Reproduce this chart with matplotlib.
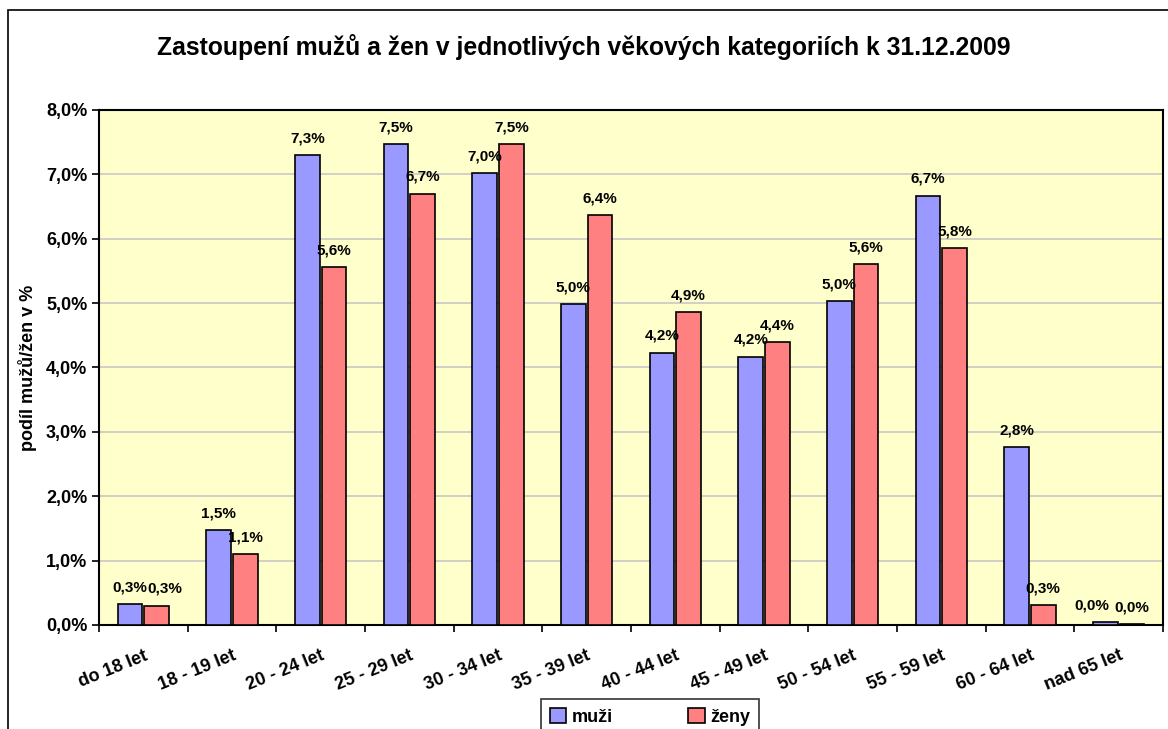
import numpy as np
import matplotlib.pyplot as plt
import matplotlib.transforms as mtransforms
from matplotlib.patches import Rectangle

plt.rcParams['font.family'] = ['Liberation Sans', 'DejaVu Sans']

categories = ["do 18 let", "18 - 19 let", "20 - 24 let", "25 - 29 let", "30 - 34 let",
              "35 - 39 let", "40 - 44 let", "45 - 49 let", "50 - 54 let", "55 - 59 let",
              "60 - 64 let", "nad 65 let"]
muzi = [0.33, 1.47, 7.30, 7.47, 7.02, 4.98, 4.23, 4.17, 5.03, 6.67, 2.76, 0.04]
zeny = [0.30, 1.10, 5.56, 6.70, 7.47, 6.37, 4.86, 4.40, 5.60, 5.85, 0.31, 0.01]
yticks = [0, 1, 2, 3, 4, 5, 6, 7, 8]

fig = plt.figure(figsize=(11.68, 7.29), dpi=100)
ax = fig.add_axes([99 / 1168, 1 - 625 / 729, (1163 - 99) / 1168, (625 - 110) / 729])

# chart border (cut off at right/bottom like the reference)
fig.patches.append(Rectangle((8 / 1168, -0.1), 1.2, 1 - 10 / 729 + 0.1,
                             transform=fig.transFigure, fill=False,
                             edgecolor='black', lw=1.2))

x = np.arange(len(categories))
w = 0.28
gap = 0.02
ax.set_facecolor('#FFFFCC')
b1 = ax.bar(x - w / 2 - gap / 2, muzi, w, color='#9999FF', edgecolor='black', lw=1.2,
            label='muži', zorder=3)
b2 = ax.bar(x + w / 2 + gap / 2, zeny, w, color='#FF8080', edgecolor='black', lw=1.2,
            label='ženy', zorder=3)

# small horizontal nudges where neighbouring labels would collide
nudge_m = [0] * len(categories)
nudge_z = [0] * len(categories)
nudge_z[0] = 6
nudge_m[-1] = -10
for bars, vals, nudge in ((b1, muzi, nudge_m), (b2, zeny, nudge_z)):
    for b, v, dx in zip(bars, vals, nudge):
        ax.annotate(f"{v:.1f}%".replace('.', ','),
                    (b.get_x() + b.get_width() / 2, v),
                    xytext=(dx, 7), textcoords='offset points',
                    ha='center', va='bottom', fontsize=11, fontweight='bold')

ax.set_xlim(-0.5, len(categories) - 0.5)
ax.set_ylim(0, 8)
ax.set_yticks(yticks)
ax.set_yticklabels([f"{t:.1f}%".replace('.', ',') for t in yticks],
                   fontsize=13, fontweight='bold')
ax.set_xticks(x)
ax.set_xticklabels(categories, rotation=22, ha='right', rotation_mode='anchor',
                   fontsize=13, fontweight='bold')
shift = mtransforms.ScaledTranslation(-6 / 100, 0, fig.dpi_scale_trans)
for lab in ax.get_xticklabels():
    lab.set_transform(lab.get_transform() + shift)
ax.set_xticks(np.arange(len(categories) + 1) - 0.5, minor=True)
ax.tick_params(axis='x', which='major', length=0, pad=16)
ax.tick_params(axis='x', which='minor', length=5, width=1.2, direction='out')
ax.tick_params(axis='y', length=5, width=1.2, direction='out')
ax.grid(axis='y', color='#C8C8C8', lw=1.2, zorder=0)
ax.set_axisbelow(True)
for s in ax.spines.values():
    s.set_linewidth(1.5)

ax.set_ylabel("podíl mužů/žen v %", fontsize=13, fontweight='bold', labelpad=6)
fig.text(0.5, 1 - 47 / 729, "Zastoupení mužů a žen v jednotlivých věkových kategoriích k 31.12.2009",
         ha='center', va='center', fontsize=17.8, fontweight='bold')

leg = fig.legend(loc='upper center', bbox_to_anchor=(650 / 1168, 1 - 699 / 729), ncol=2,
                 frameon=True, fancybox=False, edgecolor='black', handlelength=0.9,
                 handleheight=0.9, handletextpad=0.3, columnspacing=4.2,
                 prop={'size': 13, 'weight': 'bold'}, borderpad=0.5,
                 borderaxespad=0)
leg.get_frame().set_linewidth(1.2)

fig.savefig("out.png", dpi=100)
